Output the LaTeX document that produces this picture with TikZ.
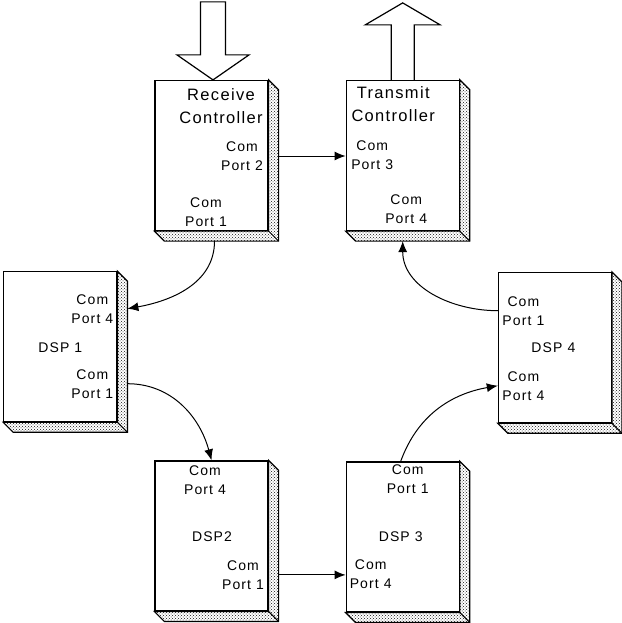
\documentclass[tikz,border=0pt]{standalone}
\usepackage{fontspec}
\setmainfont{Liberation Sans}[LetterSpace=8]
\usepackage{tikz}
\usetikzlibrary{arrows.meta, positioning, patterns, backgrounds}
\definecolor{dotColor}{RGB}{20, 20, 20}

\begin{document}
\begin{tikzpicture}[x=1pt, y=1pt,
    unit/.style={rectangle, draw, line width=1.2pt, fill=white, minimum width=113pt, minimum height=150pt, inner sep=0pt},
    title/.style={font=\fontsize{16.5}{23}\selectfont, align=center, inner sep=0pt},
    port/.style={font=\fontsize{14}{19}\selectfont, align=center, inner sep=0pt},
    label/.style={font=\fontsize{14}{19}\selectfont, inner sep=0pt},
    link/.style={-{Latex[length=11pt, width=9pt]}, line width=1pt},
    bigarrow/.style={draw, line width=1.2pt, fill=white}]

    \useasboundingbox (0,0) rectangle (621,-623);

    % the six boards
    \node (rc) [unit] at (211.5,-155.5) {};
    \node (tc) [unit, right=77pt of rc] {};
    \node (dsp1) [unit, below left=40pt and 37pt of rc] {};
    \node (dsp2) [unit, below right=38pt and 37pt of dsp1] {};
    \node (dsp4) [unit, below right=41pt and 38pt of tc] {};
    \node (dsp3) [unit, below left=38pt and 38pt of dsp4] {};

    % dotted side faces
    \begin{scope}[on background layer]
    \foreach \n in {rc, tc, dsp1, dsp2, dsp3, dsp4} {
        \draw[line width=1.2pt, pattern=crosshatch dots, pattern color=dotColor]
            (\n.north east) -- ++(10,-10) |- ([shift={(10,-10)}]\n.south west)
            -- (\n.south west) -- (\n.south east) -- cycle;
        \draw[line width=1pt] (\n.south east) -- ++(10,-10);
    }
    \end{scope}

    % texts
    \node (rct) [title] at ([shift={(9.5,49.5)}]rc.center) {Receive\\Controller};
    \node (rc2) [port] at ([shift={(30.5,-0.5)}]rc.center) {Com\\Port 2};
    \node (rc1) [port] at ([shift={(-5.5,-56.5)}]rc.center) {Com\\Port 1};

    \node (tct) [title] at ([shift={(-9.5,51)}]tc.center) {Transmit\\Controller};
    \node (tc3) [port] at ([shift={(-30.5,0)}]tc.center) {Com\\Port 3};
    \node (tc4) [port] at ([shift={(3.5,-54)}]tc.center) {Com\\Port 4};

    \node (d1p4) [port] at ([shift={(32,38)}]dsp1.center) {Com\\Port 4};
    \node (d1l) [label] at ([shift={(0,-1)}]dsp1.center) {DSP 1};
    \node (d1p1) [port] at ([shift={(32,-37)}]dsp1.center) {Com\\Port 1};

    \node (d2p4) [port] at ([shift={(-6.5,56)}]dsp2.center) {Com\\Port 4};
    \node (d2l) [label] at ([shift={(0.5,-1)}]dsp2.center) {DSP2};
    \node (d2p1) [port] at ([shift={(31.5,-39)}]dsp2.center) {Com\\Port 1};

    \node (d3p1) [port] at ([shift={(5,57.5)}]dsp3.center) {Com\\Port 1};
    \node (d3l) [label] at ([shift={(-2,0.5)}]dsp3.center) {DSP 3};
    \node (d3p4) [port] at ([shift={(-32,-37.5)}]dsp3.center) {Com\\Port 4};

    \node (d4p1) [port] at ([shift={(-31.5,37)}]dsp4.center) {Com\\Port 1};
    \node (d4l) [label] at ([shift={(-1.5,0)}]dsp4.center) {DSP 4};
    \node (d4p4) [port] at ([shift={(-31.5,-38)}]dsp4.center) {Com\\Port 4};

    % data in and out
    \draw[bigarrow] ([xshift=1.5pt]rc.north) -- ++(36,25) -- ++(-23.5,0) -- ++(0,53)
        -- ++(-25,0) -- ++(0,-53) -- ++(-23.5,0) -- cycle;
    \draw[bigarrow] ([xshift=-11.5pt]tc.north) -- ++(0,55) -- ++(-26,0) -- ++(37.5,22)
        -- ++(37.5,-22) -- ++(-26,0) -- ++(0,-55);

    % the ring of links
    \draw[link] ([shift={(3pt,-10pt)}]rc.south) to[out=-90, in=10] ([xshift=10pt]dsp1.east |- d1p4);
    \draw[link] ([xshift=10pt]rc.east |- rc2) -- (tc.west |- rc2);
    \draw[link] ([xshift=10pt]dsp1.east |- d1p1) to[out=0, in=105] (dsp2.north);
    \draw[link] ([xshift=10pt]dsp2.east |- d2p1) -- (dsp3.west |- d2p1);
    \draw[link] ([xshift=-2pt]dsp3.north) to[out=70, in=190] (dsp4.west |- d4p4);
    \draw[link] (dsp4.west |- d4p1) to[out=180, in=-90] ([yshift=-10pt]tc.south);

\end{tikzpicture}
\end{document}
